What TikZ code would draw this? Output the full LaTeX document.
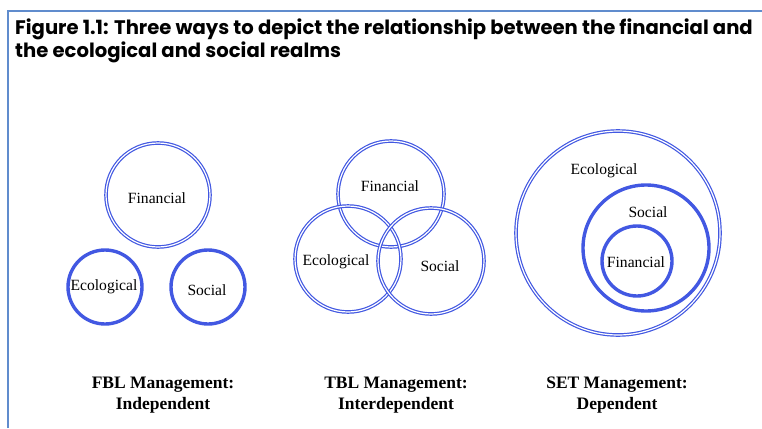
\documentclass[tikz,border=0pt]{standalone}
\usepackage{fontspec}
\setmainfont{Liberation Serif}
\newfontfamily\titlefont{Poppins}
\definecolor{ringblue}{RGB}{66,88,226}
\definecolor{framblue}{RGB}{96,140,205}

\begin{document}
\begin{tikzpicture}[x=1pt, y=-1pt,
  ring/.style={draw=ringblue, line width=1.2pt, double=white, double distance=1.2pt},
  band/.style={draw=ringblue, line width=3.4pt},
  lbl/.style={font=\fontsize{15.6}{16}\selectfont},
  captext/.style={font=\bfseries\fontsize{17.5}{20.5}\selectfont, align=center}]

\useasboundingbox (0,0) rectangle (762,428);
\fill[white] (0,0) rectangle (762,428);

% frame and title
\draw[framblue, line width=2pt] (8,428) -- (8,11) -- (762,11);
\node[anchor=base west, inner sep=0pt, font=\titlefont\bfseries\fontsize{19.6}{20}\selectfont] (title1) at (15,35) {Figure 1.1: Three ways to depict the relationship between the financial and};
\node[anchor=base west, inner sep=0pt, font=\titlefont\bfseries\fontsize{19.6}{20}\selectfont] (title2) at (15,57) {the ecological and social realms};

% FBL: independent
\draw[ring] (158,195) circle (52);
\draw[band] (105,287) circle (37);
\draw[band] (208,287) circle (37);
\node[lbl] (fblfin) at (157,198) {Financial};
\node[lbl] (fbleco) at (104,287) {Ecological};
\node[lbl] (fblsoc) at (207,290) {Social};

% TBL: interdependent
\draw[ring] (391,194) circle (53);
\draw[ring] (348,259) circle (53);
\draw[ring] (431,261) circle (53);
\node[lbl] (tblfin) at (390,186) {Financial};
\node[lbl] (tbleco) at (336,262) {Ecological};
\node[lbl] (tblsoc) at (440,266) {Social};

% SET: dependent
\draw[ring] (618,233) circle (102);
\draw[band] (646,248) circle (63);
\draw[band] (637,261) circle (35);
\node[lbl] (seteco) at (604,171) {Ecological};
\node[lbl] (setsoc) at (648,212) {Social};
\node[lbl] (setfin) at (636,262) {Financial};

% captions
\node[captext] (fblcap) at (163,395) {FBL Management:\\Independent};
\node[captext] (tblcap) at (396,395) {TBL Management:\\Interdependent};
\node[captext] (setcap) at (617,395) {SET Management:\\Dependent};

\end{tikzpicture}
\end{document}
